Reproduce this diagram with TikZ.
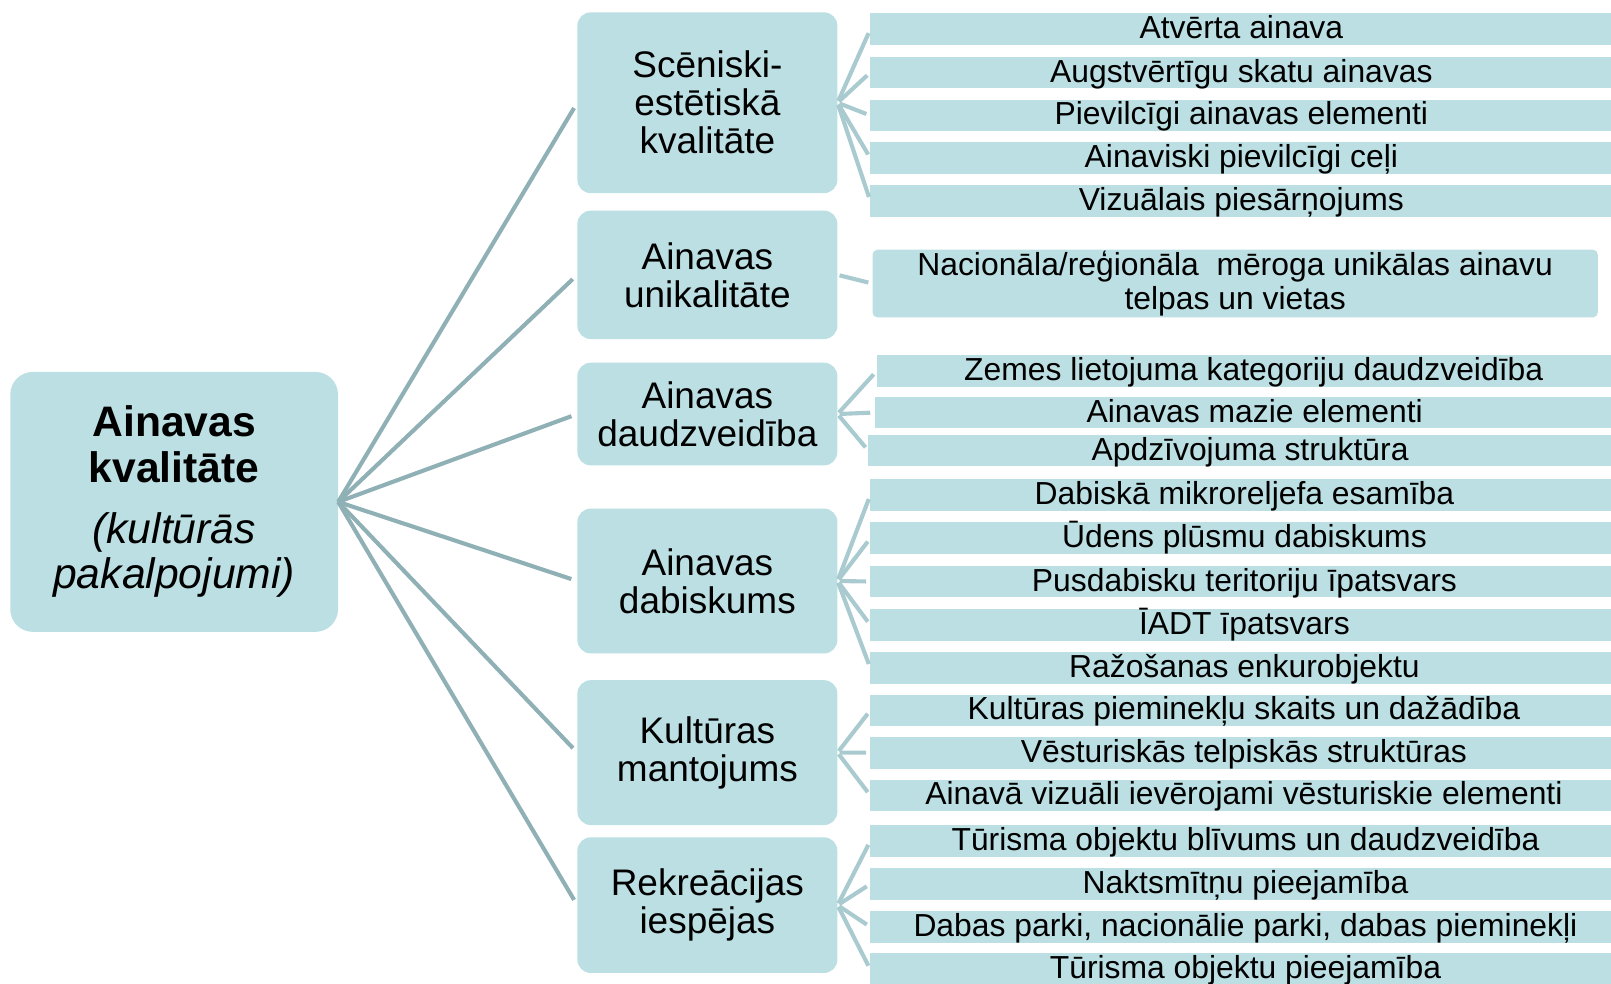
\documentclass[tikz,border=0pt]{standalone}
\usepackage{fontspec}
\setmainfont{Liberation Sans}
\definecolor{boxfill}{HTML}{BBDFE3}
\definecolor{mainline}{HTML}{8FB0B4}
\definecolor{fanline}{HTML}{A9CBCF}

\begin{document}
\begin{tikzpicture}[x=1pt, y=-1pt,
    rootbox/.style={fill=boxfill, rounded corners=22pt, minimum width=319pt, minimum height=253pt,
        align=center, inner sep=0pt, font=\fontsize{41.5}{44}\selectfont},
    catbox/.style={fill=boxfill, rounded corners=13pt, minimum width=253pt, align=center,
        inner sep=0pt, font=\fontsize{36}{37}\selectfont},
    leaf/.style={fill=boxfill, anchor=west, minimum width=#1, minimum height=31pt, inner sep=0pt,
        text height=21pt, text depth=2.5pt, font=\fontsize{31}{33}\selectfont},
    trunk/.style={draw=mainline, line width=4pt, shorten >=6pt},
    twig/.style={draw=fanline, line width=4pt, shorten <=2pt, shorten >=4pt}]

    \useasboundingbox (0,0) rectangle (1568,957);
    \clip (0,0) rectangle (1568,957);

    % main node
    \node[rootbox] (root) at (169.5,488.5)
        {\textbf{Ainavas}\\\textbf{kvalitāte}\\[16pt]\textit{(kultūrās}\\\textit{pakalpojumi)}};

    % categories
    \node[catbox, minimum height=176pt] (scen)  at (688.5,100)   {Scēniski-\\estētiskā\\kvalitāte};
    \node[catbox, minimum height=125pt] (unik)  at (688.5,267.5) {Ainavas\\unikalitāte};
    \node[catbox, minimum height=100pt] (daudz) at (688.5,403)   {Ainavas\\daudzveidība};
    \node[catbox, minimum height=141pt] (dab)   at (688.5,565.5) {Ainavas\\dabiskums};
    \node[catbox, minimum height=141pt] (kult)  at (688.5,732.5) {Kultūras\\mantojums};
    \node[catbox, minimum height=132pt] (rekr)  at (688.5,881)   {Rekreācijas\\iespējas};

    % indicators
    \node[leaf=722pt] (scen1) at (847,28.6)  {Atvērta ainava};
    \node[leaf=722pt] (scen2) at (847,70.6)  {Augstvērtīgu skatu ainavas};
    \node[leaf=722pt] (scen3) at (847,112.4) {Pievilcīgi ainavas elementi};
    \node[leaf=722pt] (scen4) at (847,153.8) {Ainaviski pievilcīgi ceļi};
    \node[leaf=722pt] (scen5) at (847,195.5) {Vizuālais piesārņojums};

    \node[fill=boxfill, anchor=west, rounded corners=5pt, minimum width=706pt, minimum height=66pt,
        inner sep=0pt, align=center, font=\fontsize{31}{33}\selectfont] (unik1) at (849,276)
        {Nacionāla/reģionāla\ \ mēroga unikālas ainavu\\telpas un vietas};

    \node[leaf=734pt] (daudz1) at (853,361.4) {Zemes lietojuma kategoriju daudzveidība};
    \node[leaf=740pt] (daudz2) at (851,401.5) {Ainavas mazie elementi};
    \node[leaf=743pt] (daudz3) at (845,438.5) {Apdzīvojuma struktūra};

    \node[leaf=728pt] (dab1) at (847,482)   {Dabiskā mikroreljefa esamība};
    \node[leaf=728pt] (dab2) at (847,524)   {Ūdens plūsmu dabiskums};
    \node[leaf=728pt] (dab3) at (847,566)   {Pusdabisku teritoriju īpatsvars};
    \node[leaf=728pt] (dab4) at (847,608.3) {ĪADT īpatsvars};
    \node[leaf=728pt] (dab5) at (847,650)   {Ražošanas enkurobjektu};

    \node[leaf=727pt] (kult1) at (847,691.5) {Kultūras pieminekļu skaits un dažādība};
    \node[leaf=727pt] (kult2) at (847,732.6) {Vēsturiskās telpiskās struktūras};
    \node[leaf=727pt] (kult3) at (847,774.2) {Ainavā vizuāli ievērojami vēsturiskie elementi};

    \node[leaf=730pt] (rekr1) at (847,818.7) {Tūrisma objektu blīvums un daudzveidība};
    \node[leaf=730pt] (rekr2) at (847,860.5) {Naktsmītņu pieejamība};
    \node[leaf=730pt] (rekr3) at (847,902.1) {Dabas parki, nacionālie parki, dabas pieminekļi};
    \node[leaf=730pt] (rekr4) at (847,943.5) {Tūrisma objektu pieejamība};

    % connectors
    \foreach \c in {scen,unik,daudz,dab,kult,rekr}
        \draw[trunk] (root.east) -- (\c.west);
    \foreach \c/\n in {scen/5,unik/1,daudz/3,dab/5,kult/3,rekr/4}
        \foreach \i in {1,...,\n}
            \draw[twig] (\c.east) -- (\c\i.west);
\end{tikzpicture}
\end{document}
